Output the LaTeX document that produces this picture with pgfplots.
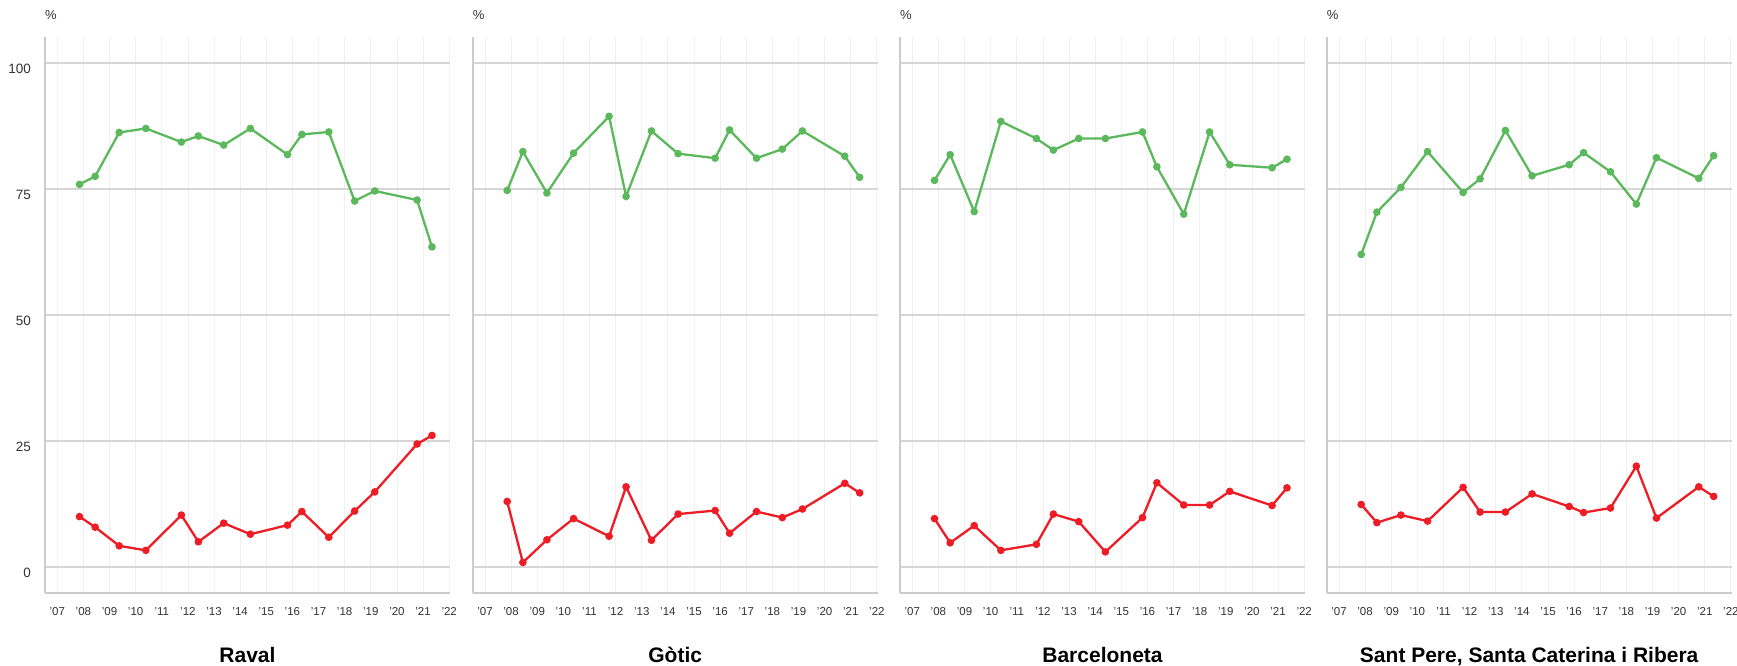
\documentclass[border=0pt]{standalone}
\usepackage{fontspec}
\setmainfont{Liberation Sans}
\usepackage{pgfplots}
\usepackage{pgfplotstable}
\pgfplotsset{compat=1.18}
\definecolor{gline}{HTML}{5CB85C}
\definecolor{rline}{HTML}{EE1C25}
\definecolor{axgray}{HTML}{CCCCCC}
\definecolor{hgrid}{HTML}{D6D6D6}
\definecolor{vgrid}{HTML}{F0F0F0}
\definecolor{txt}{HTML}{333333}

\pgfplotstableread{
x g r
2007.85 75.9 10.0
2008.45 77.5 7.9
2009.37 86.2 4.2
2010.39 87.0 3.3
2011.75 84.3 10.3
2012.40 85.5 5.0
2013.37 83.7 8.7
2014.39 87.0 6.5
2015.81 81.8 8.3
2016.36 85.8 11.0
2017.39 86.3 5.9
2018.38 72.6 11.1
2019.15 74.6 14.9
2020.77 72.8 24.4
2021.34 63.5 26.1
}\raval
\pgfplotstableread{
x g r
2007.85 74.7 13.0
2008.45 82.4 0.9
2009.37 74.2 5.4
2010.39 82.1 9.6
2011.75 89.4 6.1
2012.40 73.5 15.9
2013.37 86.5 5.3
2014.39 82.0 10.5
2015.81 81.1 11.2
2016.36 86.7 6.7
2017.39 81.1 11.0
2018.38 82.9 9.8
2019.15 86.5 11.5
2020.77 81.5 16.6
2021.34 77.3 14.7
}\gotic
\pgfplotstableread{
x g r
2007.85 76.7 9.6
2008.45 81.8 4.8
2009.37 70.5 8.2
2010.39 88.4 3.3
2011.75 85.0 4.5
2012.40 82.7 10.5
2013.37 85.0 9.0
2014.39 85.0 3.0
2015.81 86.3 9.8
2016.36 79.4 16.7
2017.39 70.0 12.3
2018.38 86.3 12.3
2019.15 79.8 15.0
2020.77 79.2 12.2
2021.34 80.9 15.7
}\barna
\pgfplotstableread{
x g r
2007.85 62.0 12.4
2008.45 70.4 8.8
2009.37 75.3 10.3
2010.39 82.4 9.1
2011.75 74.3 15.8
2012.40 77.0 10.9
2013.37 86.6 10.9
2014.39 77.6 14.5
2015.81 79.8 12.0
2016.36 82.2 10.8
2017.39 78.4 11.7
2018.38 72.0 20.0
2019.15 81.2 9.7
2020.77 77.1 15.9
2021.34 81.6 14.0
}\santpere

\pgfplotsset{
  panel/.style={
    scale only axis, width=405pt, height=556pt, anchor=south west,
    xmin=2006.53, xmax=2022.03, ymin=-5.1, ymax=105.2,
    axis x line*=bottom, axis y line*=left,
    axis line style={draw=axgray, line width=1.8pt, -},
    xtick={2007,...,2022},
    xticklabels={'07,'08,'09,'10,'11,'12,'13,'14,'15,'16,'17,'18,'19,'20,'21,'22},
    ytick={0,25,50,75,100},
    major tick length=0pt,
    xmajorgrids, ymajorgrids,
    x grid style={vgrid, line width=0.8pt},
    y grid style={hgrid, line width=1.6pt},
    xticklabel style={anchor=base, yshift=-22.3pt, font=\fontsize{11.5}{13}\selectfont, text=txt, inner sep=0pt},
    yticklabel style={anchor=east, inner sep=0pt, xshift=-14pt, yshift=-6pt, font=\fontsize{13.5}{15}\selectfont, text=txt},
    /pgf/number format/assume math mode=true,
  },
  gser/.style={gline, line width=2.3pt, mark=*, mark size=2.6pt, mark options={solid}},
  rser/.style={rline, line width=2.3pt, mark=*, mark size=2.6pt, mark options={solid}},
}

\begin{document}
\begin{tikzpicture}[x=1pt,y=1pt]
\path[use as bounding box] (0,0) rectangle (1737,665);

\begin{axis}[panel, at={(45pt,72.3pt)}]
\addplot[gser] table[x=x,y=g]{\raval};
\addplot[rser] table[x=x,y=r]{\raval};
\end{axis}

\begin{axis}[panel, at={(472.7pt,72.3pt)}, yticklabels={}]
\addplot[gser] table[x=x,y=g]{\gotic};
\addplot[rser] table[x=x,y=r]{\gotic};
\end{axis}

\begin{axis}[panel, at={(900pt,72.3pt)}, yticklabels={}]
\addplot[gser] table[x=x,y=g]{\barna};
\addplot[rser] table[x=x,y=r]{\barna};
\end{axis}

\begin{axis}[panel, at={(1326.7pt,72.3pt)}, yticklabels={}]
\addplot[gser] table[x=x,y=g]{\santpere};
\addplot[rser] table[x=x,y=r]{\santpere};
\end{axis}

\foreach \xx in {45,472.7,900,1326.7}{
  \node[anchor=west, inner sep=0pt, text=txt, font=\fontsize{13}{15}\selectfont] at (\xx,650) {\%};
}
\node[anchor=base, inner sep=0pt, font=\fontsize{21}{24}\selectfont\bfseries] at (247.5,3) {Raval};
\node[anchor=base, inner sep=0pt, font=\fontsize{21}{24}\selectfont\bfseries] at (675.2,3) {Gòtic};
\node[anchor=base, inner sep=0pt, font=\fontsize{21}{24}\selectfont\bfseries] at (1102.5,3) {Barceloneta};
\node[anchor=base, inner sep=0pt, font=\fontsize{21}{24}\selectfont\bfseries] at (1529.2,3) {Sant Pere, Santa Caterina i Ribera};
\end{tikzpicture}
\end{document}
